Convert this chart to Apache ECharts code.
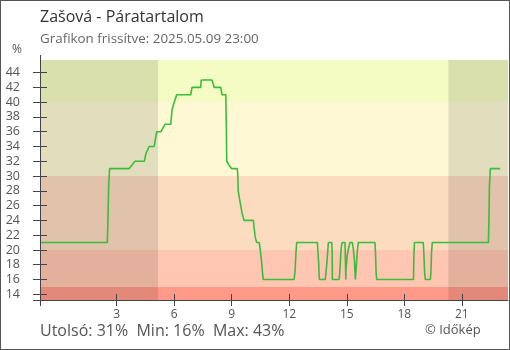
<!DOCTYPE html>
<html><head><meta charset="utf-8">
<script src="https://cdn.jsdelivr.net/npm/echarts@6/dist/echarts.min.js"></script>
<style>
html,body{margin:0;padding:0;background:#fff;}
#chart{width:510px;height:350px;position:absolute;left:0;top:0;}
#frame{position:absolute;left:0;top:0;width:510px;height:350px;box-sizing:border-box;border:1px solid #555;pointer-events:none;}
</style></head><body>
<div id="chart"></div><div id="frame"></div>
<script>
const titleText = 'Zašová - Páratartalom';
const subtitleText = 'Grafikon frissítve: 2025.05.09 23:00';
const unitText = '%';
const copyrightText = '© Időkép';

// time in hours (relative to 2025.05.09 00:00), relative humidity in %
const times = [-1,2.51,2.54,2.58,2.63,3.64,3.8,3.95,4.44,4.52,4.69,4.96,5.02,5.09,5.31,5.41,5.52,5.82,5.89,6.0,6.13,6.86,6.93,7.38,7.41,7.97,8.03,8.08,8.43,8.49,8.69,8.72,8.74,8.85,9.0,9.29,9.32,9.34,9.40,9.47,9.54,9.64,10.13,10.16,10.22,10.30,10.44,10.53,10.58,10.62,10.65,12.25,12.30,12.35,12.39,13.47,13.50,13.53,13.57,13.88,13.92,14.0,14.04,14.22,14.24,14.25,14.6,14.64,14.69,14.72,14.77,14.91,14.95,14.96,15.03,15.1,15.17,15.29,15.34,15.4,15.45,15.49,15.55,15.6,16.47,16.5,16.53,16.56,18.48,18.5,18.53,18.99,19.02,19.06,19.1,19.36,19.39,19.42,19.46,22.39,22.41,22.44,22.49,23.0];
const humidity = [21,21,23.7,28.6,31,31,31.5,32,32,33,34,34,35,36,36,36.5,37,37,39,40,41,41,42,42,43,43,42.5,42,42,41,41,36.5,32,31.5,31,31,30,28,27,26,25,24,24,23.2,21.8,21,21,19.1,17.7,16.5,16,16,17,19.6,21,21,19.6,18.4,16,16,17,19.5,21,21,19.6,16,16,17.1,19.5,20.5,21,21,16,17.5,19.4,20.3,21,21,20.2,18.6,16,16,19.8,21,21,19.6,17,16,16,19,21,21,19.6,17,16,16,17,19.6,21,21,23.5,28.5,31,31];

const xTicks = [3,6,9,12,15,18,21];
const yTicks = [14,16,18,20,22,24,26,28,30,32,34,36,38,40,42,44];
const xRange = [-1, 23.41];
const yRange = [13.23, 45.7];
const bandEdges = [13.23, 15, 20, 30, 40, 45.7];
const bandColors = ['#ff9a88','#ffc6b2','#fcdcbf','#fef9d4','#f4fcc4'];
const nightSpans = [[-1, 5.16], [20.3, 23.41]];

const lineData = times.map((t, i) => [t, humidity[i]]);
const lastVal = humidity[humidity.length - 1];
const minVal = Math.min(...humidity);
const maxVal = Math.max(...humidity);
const footerText = 'Utolsó: ' + Math.round(lastVal) + '%  Min: ' + Math.round(minVal) + '%  Max: ' + Math.round(maxVal) + '%';

const FONT = '"Open Sans", "Noto Sans", sans-serif';
const axisColor = '#444';

const areaData = [];
for (let i = 0; i < bandColors.length; i++) {
  areaData.push([{ yAxis: bandEdges[i], itemStyle: { color: bandColors[i] } }, { yAxis: bandEdges[i + 1] }]);
}
nightSpans.forEach(s => {
  areaData.push([{ xAxis: s[0], itemStyle: { color: 'rgba(0,0,0,0.11)' } }, { xAxis: s[1] }]);
});

const chart = echarts.init(document.getElementById('chart'), null, { renderer: 'canvas' });
const baseX = { type: 'value', min: xRange[0], max: xRange[1], gridIndex: 0, splitLine: { show: false }, z: 10 };
const baseY = { type: 'value', min: yRange[0], max: yRange[1], gridIndex: 0, splitLine: { show: false }, z: 10 };
chart.setOption({
  animation: false,
  grid: { left: 40, right: 2, top: 60, bottom: 50, outerBoundsMode: 'none' },
  xAxis: [
    Object.assign({}, baseX, {
      position: 'bottom',
      axisLine: { show: true, onZero: false, lineStyle: { color: axisColor, width: 1 } },
      axisTick: { show: true, inside: false, length: 6, customValues: [xRange[0]].concat(xTicks), lineStyle: { color: axisColor } },
      axisLabel: { show: true, customValues: xTicks, margin: 9, color: '#555', fontSize: 12, fontFamily: FONT }
    }),
    Object.assign({}, baseX, {
      position: 'bottom',
      axisLine: { show: false, onZero: false },
      axisTick: { show: true, inside: true, length: 6, customValues: xTicks, lineStyle: { color: axisColor } },
      axisLabel: { show: false }
    }),
    Object.assign({}, baseX, {
      position: 'top',
      axisLine: { show: false, onZero: false },
      axisTick: { show: true, inside: false, length: 5, customValues: [xRange[0]], lineStyle: { color: axisColor } },
      axisLabel: { show: false }
    })
  ],
  yAxis: [
    Object.assign({}, baseY, {
      position: 'left',
      axisLine: { show: true, onZero: false, lineStyle: { color: axisColor, width: 1 } },
      axisTick: { show: true, inside: false, length: 7, customValues: [yRange[0]].concat(yTicks), lineStyle: { color: axisColor } },
      axisLabel: { show: true, customValues: yTicks, margin: 20, color: '#555', fontSize: 12.5, fontFamily: FONT }
    }),
    Object.assign({}, baseY, {
      position: 'left',
      axisLine: { show: false, onZero: false },
      axisTick: { show: true, inside: true, length: 7, customValues: [yRange[0]].concat(yTicks), lineStyle: { color: axisColor } },
      axisLabel: { show: false }
    })
  ],
  series: [{
    type: 'line',
    xAxisIndex: 0,
    yAxisIndex: 0,
    data: lineData,
    showSymbol: false,
    symbol: 'none',
    lineStyle: { color: '#3cbc3c', width: 1.6 },
    markArea: { silent: true, label: { show: false }, data: areaData },
    z: 2
  }],
  graphic: [
    { type: 'text', left: 40, top: 9, style: { text: titleText, font: '16px ' + FONT, fill: '#333' } },
    { type: 'text', left: 40, top: 33, style: { text: subtitleText, font: '13.4px ' + FONT, fill: '#666' } },
    { type: 'text', left: 12, top: 44, style: { text: unitText, font: '12px ' + FONT, fill: '#555' } },
    { type: 'text', left: 40, top: 323, style: { text: footerText, font: '16px ' + FONT, fill: '#555' } },
    { type: 'text', left: 425, top: 324, style: { text: copyrightText, font: '13px ' + FONT, fill: '#555' } }
  ]
});
</script>
</body></html>
